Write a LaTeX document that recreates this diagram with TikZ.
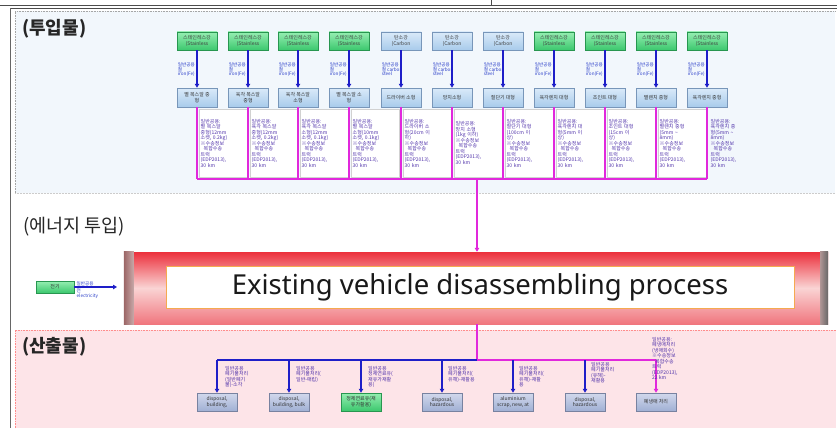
\documentclass[tikz,border=0pt]{standalone}
\usepackage{fontspec}
\setmainfont{Noto Sans CJK KR}
\newfontfamily\latinsans{Noto Sans}
\usetikzlibrary{arrows.meta,calc}
\definecolor{arrblue}{RGB}{30,30,200}
\definecolor{magc}{RGB}{225,40,220}
\definecolor{labblue}{RGB}{40,60,200}
\definecolor{labpurple}{RGB}{80,50,170}
\definecolor{greentop}{RGB}{150,238,178}
\definecolor{greenbot}{RGB}{60,200,110}
\definecolor{greenborder}{RGB}{40,150,80}
\definecolor{carbontop}{RGB}{218,234,249}
\definecolor{carbonbot}{RGB}{168,203,235}
\definecolor{carbonborder}{RGB}{120,150,185}
\definecolor{graytop}{RGB}{210,216,236}
\definecolor{graybot}{RGB}{160,176,212}
\definecolor{grayborder}{RGB}{120,130,160}
\definecolor{inpanel}{RGB}{242,247,252}
\definecolor{outpanel}{RGB}{253,228,232}
\definecolor{proctop}{RGB}{236,48,60}
\definecolor{procmid}{RGB}{250,212,212}
\definecolor{procbot}{RGB}{240,118,126}
\definecolor{innerorange}{RGB}{245,170,80}
\newcommand\tinyfs{\fontsize{5}{5.5}\selectfont}
\newcommand\arrfs{\fontsize{4.6}{4.8}\selectfont}
\begin{document}
\begin{tikzpicture}[x=1pt,y=-1pt,
  bluearr/.style={draw=arrblue,line width=1.6pt,-{Triangle[length=4pt,width=4.5pt]}},
  magline/.style={draw=magc,line width=1.3pt},
  magarr/.style={magline,-{Triangle[length=4pt,width=4.5pt]}},
  basebox/.style={minimum width=40pt,inner sep=0pt,font=\tinyfs,align=center,text=black!80,line width=0.5pt},
  stbox/.style={basebox,minimum height=18pt,draw=greenborder,top color=greentop,bottom color=greenbot},
  cbbox/.style={basebox,minimum height=18pt,draw=carbonborder,top color=carbontop,bottom color=carbonbot},
  midbox/.style={basebox,minimum height=19pt,draw=carbonborder,top color=carbontop,bottom color=carbonbot},
  outgray/.style={basebox,minimum height=18pt,draw=grayborder,top color=graytop,bottom color=graybot},
  outgreen/.style={basebox,minimum height=18pt,draw=greenborder,top color=greentop,bottom color=greenbot},
  arrlab/.style={font=\arrfs,text=labblue,align=left,anchor=north west,inner sep=0pt},
  maglab/.style={font=\tinyfs,text=labpurple,align=left,anchor=north west,inner sep=2pt,text width=44pt,minimum height=68pt},
  outlab/.style={font=\tinyfs,text=labpurple,align=left,anchor=north west,inner sep=0pt},
  sectitle/.style={anchor=west,inner sep=0pt,text=black!85}]
\useasboundingbox (0,0) rectangle (837,428);
\fill[white] (0,0) rectangle (837,428);
% frame
\draw[black!70,line width=0.6pt] (0,5.5) -- (837,5.5);
\draw[black!70,line width=0.6pt] (10,8.5) -- (837,8.5);
\draw[black!70,line width=0.6pt] (491,0) -- (491,5.5);
\draw[black!60,line width=0.6pt] (10,8.5) -- (10,428);
% panels
\fill[inpanel] (15,11) rectangle (835,193);
\draw[black!35,densely dotted,line width=0.6pt] (15,193) -- (15,11) -- (835,11);
\draw[black!20,densely dotted,line width=0.5pt] (15,193) -- (835,193);
\fill[outpanel] (15,330) rectangle (836,428);
\draw[red!45,densely dotted,line width=0.6pt] (15,428) -- (15,330) -- (836,330);
% titles
\node[sectitle,font=\fontsize{18}{18}\selectfont\bfseries] (tin) at (22,29) {(투입물)};
\node[sectitle,font=\fontsize{18.5}{18.5}\selectfont] (ten) at (23,227) {(에너지 투입)};
\node[sectitle,font=\fontsize{18}{18}\selectfont\bfseries] (tout) at (22,347) {(산출물)};
% input rows
\foreach \i/\x/\st/\mt in {
  1/197/stbox/{별 복스알 중\\형},
  2/248/stbox/{육각 복스알\\중형},
  3/298/stbox/{육각 복스알\\소형},
  4/349/stbox/{별 복스알 소\\형},
  5/401/cbbox/{드라이버 소형},
  6/452/cbbox/{망치소형},
  7/503/cbbox/{절단기 대형},
  8/554/stbox/{육각렌치 대형},
  9/605/stbox/{조인트 대형},
  10/656/stbox/{별렌치 중형},
  11/707/stbox/{육각렌치 중형}}{
  \node[\st] (t\i) at (\x,41) {};
  \node[midbox] (m\i) at (\x,97.5) {\mt};
  \coordinate (b\i) at (\x,179);
}
% top-box texts
\foreach \i in {1,2,3,4,8,9,10,11}{\node[font=\tinyfs,align=center,text=black!75,inner sep=0pt] at (t\i) {스테인레스강\\(Stainless};}
\foreach \i in {5,6,7}{\node[font=\tinyfs,align=center,text=black!75,inner sep=0pt] at (t\i) {탄소강\\(Carbon};}
% arrow labels
\foreach \i in {1,2,3,4,8,9,10,11}{\node[arrlab] at ($(t\i.south west)+(1,12)$) {일반공용\\철\\iron(Fe)};}
\foreach \i in {5,6,7}{\node[arrlab] at ($(t\i.south west)+(1,12)$) {일반공용\\철 carbon\\steel};}
% blue arrows
\foreach \i in {1,...,11}{\draw[bluearr] (t\i) -- (m\i);}
% magenta labels
\foreach \i/\spec in {
  1/{별 복스알\\중형(12mm\\소켓, 0.2kg)},
  2/{육각 복스알\\중형(12mm\\소켓, 0.2kg)},
  3/{육각 복스알\\소형(12mm\\소켓, 0.1kg)},
  4/{별 복스알\\소형(10mm\\소켓, 0.1kg)},
  5/{드라이버 소\\형(20cm 이\\하)},
  6/{망치 소형\\(1kg 이하)},
  7/{절단기 대형\\(100cm 이\\상)},
  8/{육각렌치 대\\형(5mm 이\\상)},
  9/{조인트 대형\\(15cm 이\\상)},
  10/{별렌치 중형\\(5mm \textasciitilde\\8mm)}}{
  \node[maglab,fill=white,draw=black!18,line width=0.4pt] (l\i) at ($(b\i)+(1.5,-70)$) {일반공용:\\\spec\\※수송정보\\\hspace*{3pt}복합수송\\트럭\\(EDP2013),\\30 km};
}
\node[maglab] (l11) at ($(b11)+(1.5,-70)$) {일반공용:\\육각렌치 중\\형(5mm \textasciitilde\\8mm)\\※수송정보\\\hspace*{3pt}복합수송\\트럭\\(EDP2013),\\30 km};
% magenta verticals and bus
\foreach \i in {1,...,11}{\draw[magline] (m\i) -- (b\i);}
\draw[magline] (b1) -- (b11);
% process
\node[minimum width=704pt,minimum height=72pt,inner sep=0pt,top color=proctop,bottom color=procbot,middle color=procmid] (proc) at (476,288) {};
\shade[left color=black!65!red!60!white,right color=procmid!80!black,draw=none] (proc.north west) rectangle ($(proc.south west)+(10,0)$);
\shade[right color=black!60,left color=procmid!70!black,draw=none] ($(proc.north east)+(-8,0)$) rectangle (proc.south east);
\node[draw=innerorange,line width=1pt,fill=white,minimum width=628pt,minimum height=42pt,inner sep=0pt,
  font=\latinsans\fontsize{27.5}{27.5}\selectfont,text=black!90] (inner) at (480,287) {Existing vehicle disassembling process};
\coordinate (bj) at (477,179);
\draw[magarr] (bj) -- (bj |- proc.north);
% electricity
\node[basebox,minimum width=38pt,minimum height=12pt,draw=greenborder,top color=greentop,bottom color=greenbot] (elec) at (55,287) {전기};
\coordinate (elecend) at (117,287);
\draw[bluearr,line width=1.2pt] (elec) -- (elecend);
\node[font=\arrfs,text=labblue,anchor=south west,inner sep=0.5pt] (elecl1) at (76,287) {일반공용};
\node[font=\arrfs,text=labblue,anchor=north west,inner sep=0.5pt,align=left] (elecl2) at (76,288) {전\\electricity};
% outputs
\coordinate (oj) at (477,360);
\draw[magline] (proc.south -| oj) -- (oj);
\foreach \i/\x in {1/217,2/289,3/361,4/442,5/513,6/585,7/656}{\coordinate (c\i) at (\x,360);}
\node[outgray] (o1) at (217,402) {disposal,\\building,};
\node[outgray] (o2) at (289,402) {disposal,\\building, bulk};
\node[outgreen] (o3) at (361,402) {정제연료유(재\\유가활용)};
\node[outgray] (o4) at (442,402) {disposal,\\hazardous};
\node[outgray] (o5) at (513,402) {aluminium\\scrap, new, at};
\node[outgray] (o6) at (585,402) {disposal,\\hazardous};
\node[outgray] (o7) at (656,402) {폐냉매 처리};
\draw[draw=arrblue,line width=1.6pt] (c1) -- (c6);
\draw[magline] (oj) -- (c7);
\foreach \i in {1,...,6}{\draw[bluearr] (c\i) -- (o\i);}
\draw[magarr] (c7) -- (o7);
\node[outlab] at ($(c1)+(8,6)$) {일반공용\\폐기물처리\\(일반폐기\\물)-소각};
\node[outlab] at ($(c2)+(7,6)$) {일반공용\\폐기물처리(\\일반-매립)};
\node[outlab] at ($(c3)+(7,6)$) {일반공용\\정제연료유(\\재유가재활\\용)};
\node[outlab] at ($(c4)+(6,6)$) {일반공용\\폐기물처리(\\유해)-재활용};
\node[outlab] at ($(c5)+(6,6)$) {일반공용\\폐기물처리(\\유해)-재활\\용};
\node[outlab] at ($(c6)+(6,2)$) {일반공용\\폐기물처리\\(유해)-\\재활용};
\node[outlab] at ($(c7)+(-4,-23)$) {일반공용:\\폐냉매처리\\(냉매회수)\\※수송정보\\\hspace*{3pt}복합수송\\트럭\\(EDP2013),\\22 km};
\end{tikzpicture}
\end{document}
